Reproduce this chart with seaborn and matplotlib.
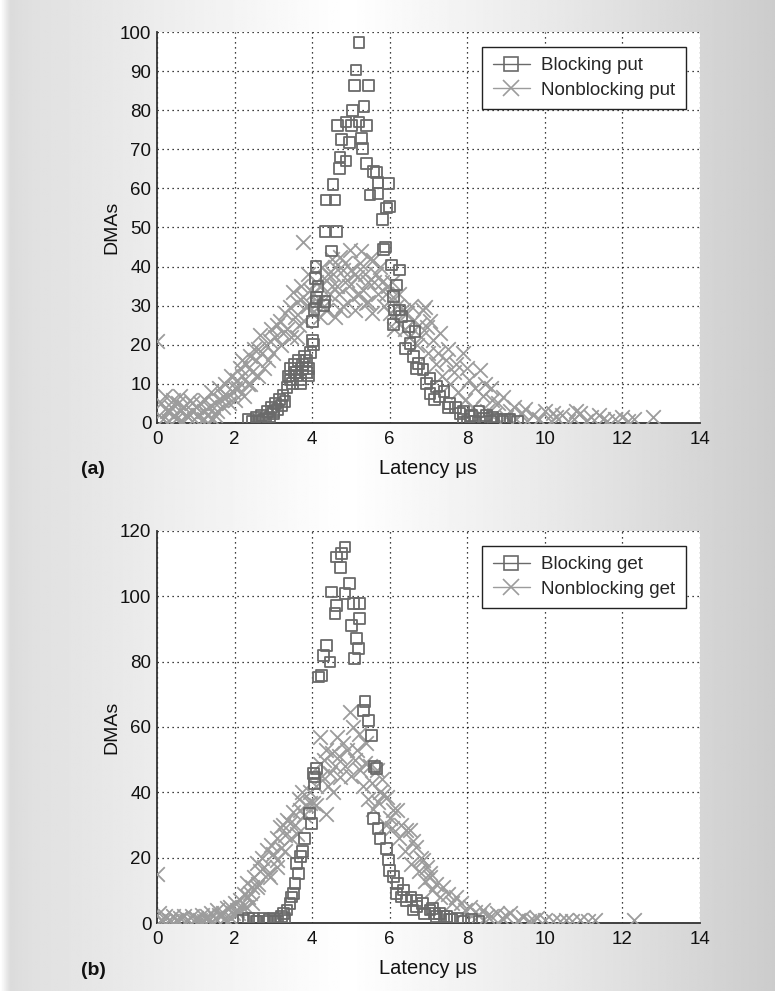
import numpy as np
import pandas as pd
import matplotlib
matplotlib.use("Agg")
import matplotlib.pyplot as plt
from matplotlib.lines import Line2D
import seaborn as sns

sns.set_theme(style="white")
plt.rcParams['font.family'] = ['Liberation Sans', 'DejaVu Sans']

# ---------------- data: panel (a) ----------------
bput_x = [2.35,2.45,2.55,2.6,2.7,2.75,2.85,2.9,2.95,3.0,3.05,3.1,3.15,3.2,3.25,3.3,3.35,3.4,3.45,3.5,
          3.55,3.6,3.65,3.7,3.75,3.8,3.85,3.9,3.95,4.0,4.03,4.0,4.05,4.1,4.12,4.15,4.08,4.1,4.3,4.33,
          4.36,4.5,4.33,4.63,4.54,4.59,4.70,4.72,4.87,4.76,4.96,4.65,4.87,5.02,5.21,5.40,5.28,5.30,5.05,5.34,
          5.09,5.46,5.13,5.21,5.40,5.58,5.66,5.70,5.96,5.49,5.70,5.92,5.99,5.82,5.83,5.9,
          6.05,6.26,6.18,6.09,6.26,6.13,6.31,6.09,6.48,6.65,6.52,6.61,6.74,6.86,7.04,7.21,7.04,7.29,7.55,7.4,
          7.7,7.81,7.9,8.07,8.2,8.41,8.5,8.6,8.76,8.9,9.10,9.3,8.3,8.0,
          3.45,3.6,3.75,3.9,3.55,3.7,3.85,2.65,2.8,3.0,6.4,6.7,6.95,7.15,7.5,7.9,8.1,8.65,8.95]
bput_y = [1,0.5,1.5,0.5,2,1,3,1.5,4,2.5,5,3.5,6,4.5,7,5.5,9,12,14,10,
          15,13,16,11,14,17,13,12,18,21,20,26,29,31,32,35,37,40,30,31,
          57,44,49,49,61,57,65,68,67,72.6,71.7,76,77,76,77,76,72.8,70.3,80,81,
          86.4,86.4,90.3,97.4,66.4,64.3,64,61.5,61.3,58.3,58.7,55,55.3,52.1,44.4,45,
          40.4,39.1,35.3,32.3,28.9,28.9,27.2,25.1,24.6,23.4,20.4,17,15.3,13.6,11.4,9.3,7.6,6.7,5,8,
          4,2.5,1,1.6,0.5,1.2,2,0.5,0.8,0.5,0.8,0.5,3,0.5,
          11,12,15,14,13,10,16,0.5,1,3,19,14,10,6,4,3,2,1.5,1]

nput_x = [0.0,0.05,0.1,0.15,0.2,0.25,0.3,0.35,0.4,0.45,0.5,0.55,0.6,0.65,0.7,0.75,0.8,0.85,0.9,0.95,
          1.0,1.05,1.1,1.15,1.2,1.25,1.3,1.35,1.4,1.45,1.5,1.55,1.6,1.65,1.7,1.75,1.8,1.85,1.9,1.95,
          2.0,2.05,2.1,2.15,2.2,2.25,2.3,2.35,2.4,2.45,2.5,2.55,2.6,2.65,2.7,2.75,2.8,2.85,2.91,2.95,
          3.0,3.05,3.1,3.17,3.2,3.25,3.3,3.35,3.43,3.45,3.51,3.55,3.6,3.65,3.7,3.77,3.77,3.85,3.9,3.95,
          4.03,4.1,4.2,4.25,4.3,4.37,4.45,4.5,4.55,4.6,4.65,4.72,4.72,4.8,4.89,4.97,5.05,5.1,5.15,5.23,
          5.3,5.40,5.45,5.5,5.58,5.65,5.7,5.8,5.85,5.95,6.0,6.09,6.15,6.2,6.35,6.4,6.5,6.6,6.7,6.86,
          6.91,6.95,7.0,7.12,7.2,7.29,7.35,7.45,7.55,7.65,7.75,7.89,7.95,8.05,8.15,8.32,8.4,8.5,8.6,8.7,
          8.8,8.93,9.0,9.1,9.25,9.4,9.55,9.7,9.85,10.0,10.15,10.3,10.45,10.6,10.75,10.9,11.05,11.2,11.4,11.6,
          11.8,12.0,12.15,12.3,12.8,
          3.6,3.8,3.9,4.0,4.15,4.2,4.35,4.4,4.5,4.6,4.7,4.8,4.85,4.95,5.0,5.1,5.2,5.25,5.35,5.45,
          5.55,5.6,5.75,5.9,6.05,6.1,6.25,6.45,6.55,6.75,6.8,7.05,7.25,7.5,7.7,8.0,8.2,8.45,8.65,9.2,
          9.5,10.2,10.8,11.5,2.2,2.4,2.6,2.0,1.7,1.2,0.6,0.3,0.9,1.5]
nput_y = [21,2,5,1,7,3,0.5,4,6,2,1,5,3,0.5,4,2,1.5,6,3,1,
          4,2,5,0.5,3,6,2,4,8,1,5,3,9,6,4,10,7,5,12,8,
          6,11,9,14,12,7,15,10,17,13,19,16,12,22.5,18,14,20,16,21,24,
          18,22,25,26,20,23,28,24,29.7,22,33.6,27,31,25,35,32.3,46.4,30,38,34,
          33.2,36,34.9,40,30,36.6,33,42,38,27,35,42.5,28.9,39,36.6,44.2,32,38,37.4,40.8,
          34,30.6,36,42,41.7,38,33,36,30,35,28,32.3,26,30,28.9,24,22,26,20,28.9,
          29.7,24.6,18,21.2,15,22.9,12,16,10,13,8,17.8,6,11,4,13.6,7,3,9,2,
          5,6.7,1.5,3,1,2.5,0.5,2,1,3,0.5,1.5,2,0.5,1,2.5,0.5,1.5,2,0.5,
          1,1.5,0.5,1,1.6,
          22,26,30,28,31,27,29,38,35,40,33,30,41,35,39,29,33,44,38,31,
          28,36,40,33,36,24,33,28,30,25,22,26,18,19,15,14,9,10,6,4,
          3.5,2.5,3,1,16,10,19,9,7,1,7,3,5,2]

# ---------------- data: panel (b) ----------------
bget_x = [2.23,2.35,2.48,2.6,2.74,2.85,3.0,3.1,3.2,3.26,3.35,3.43,3.47,3.51,3.56,3.6,3.64,3.69,3.75,3.81,
          3.94,3.99,4.07,4.07,4.12,4.03,4.16,4.24,4.29,4.37,4.46,
          4.50,4.59,4.63,4.63,4.73,4.76,4.85,4.85,4.96,5.06,5.23,5.23,5.02,5.15,5.19,5.10,
          5.36,5.32,5.45,5.53,5.66,5.6,5.58,5.70,5.75,5.92,5.96,6.0,6.09,6.2,6.18,6.35,6.43,6.55,6.69,6.69,
          6.85,7.04,7.1,7.15,7.29,7.4,7.47,7.6,7.75,7.9,8.1,8.3,
          2.55,2.9,3.05,3.3,6.3,6.6,6.9,7.2,7.55]
bget_y = [0.9,1.5,1.4,0.5,1.4,0.5,1.4,0.5,2,2.9,4,6.0,8,9.1,12.1,18.3,15.2,20.3,22,25.9,
          33.5,30.5,42.7,44.7,47.3,45.8,75.3,75.8,82,85,79.9,
          101.3,94.7,97.2,112,108.8,113.1,115.1,100.8,103.9,97.8,97.8,93.2,91.1,87.1,84.0,80.9,
          67.7,65.1,62.1,57.5,47.3,48,32.0,29.0,25.9,22.8,19.3,16,14.2,12,9.1,10.1,7.0,8,7.0,5.0,
          6,4.0,4.5,3,3.0,2,1.9,1,1.5,0.5,1,0.5,
          0.5,1,0.5,1.5,8,4,3,2,1.2]

nget_x = [0.0,0.05,0.1,0.15,0.2,0.3,0.35,0.4,0.5,0.55,0.6,0.7,0.75,0.8,0.9,0.95,1.0,1.1,1.15,1.2,
          1.3,1.35,1.4,1.5,1.54,1.6,1.7,1.75,1.8,1.88,1.95,2.0,2.05,2.14,2.2,2.25,2.31,2.35,2.40,2.45,
          2.5,2.57,2.57,2.65,2.7,2.75,2.83,2.91,2.95,3.0,3.09,3.1,3.17,3.2,3.25,3.3,3.34,3.43,3.5,3.6,
          3.65,3.69,3.75,3.85,3.94,4.03,4.1,4.2,4.2,4.3,4.37,4.37,4.45,4.55,4.63,4.72,4.8,4.85,4.97,5.05,
          5.1,5.15,5.23,5.3,5.40,5.45,5.5,5.58,5.66,5.75,5.83,5.92,6.0,6.09,6.18,6.3,6.43,6.52,6.6,6.69,
          6.8,6.86,6.95,7.04,7.04,7.2,7.38,7.5,7.72,7.85,8.07,8.2,8.41,8.6,8.76,8.9,9.10,9.3,9.44,9.6,
          9.8,10.0,10.4,10.55,10.7,10.9,11.1,11.3,12.3,
          4.25,4.4,4.5,4.6,4.7,4.9,5.0,5.2,5.35,5.55,5.7,5.8,5.9,6.05,6.25,6.4,6.55,6.75,6.9,7.1,
          7.3,7.6,7.95,8.3,8.5,3.3,3.45,3.55,3.8,3.95,4.1,3.1,2.85,2.6,2.45,2.3,2.1,9.0,9.7,10.2,
          1.9,1.65]
nget_y = [15,3,1,0.5,2,1,0.5,2,1,0.5,1.5,2,0.5,1,2,0.5,1.5,1,2.5,0.5,
          2,1,3,1.5,4,2.5,3,1.5,4.5,5,3,6,4,7,5,9,12.1,8,9.1,11,
          14,11.1,18.3,16,20,17,22.3,14.2,24,21,19.3,26,29.4,23,30,27,31.5,30.5,34,27.4,
          38,34.6,40,36,36.6,36.6,42,57.0,48.8,50,52.9,33.5,46,40,57.0,44.7,55.0,48,64.6,60,
          50,52.9,46.8,42,55.0,38,48,35,46.8,40,39.1,38.6,32,34.6,34.6,30,28.4,28.4,25,23.3,
          20,19.3,17,15.2,14.2,12,11.1,9,8.0,6,5.0,3.5,4.0,2,3.0,1.5,3.0,1,1.9,0.5,
          1.5,1,0.5,1,0.5,1,0.5,1,0.9,
          45,42,52,48,51,53,45,58,49,43,37,44,30,29,26,22,18,16,13,10,
          8,6,4,2.5,2,22,26,30,33,40,36,17,15,12,6,5,3,2,1,0.5,
          1.5,2]

xticks = [0, 2, 4, 6, 8, 10, 12, 14]
yticks_a = [0, 10, 20, 30, 40, 50, 60, 70, 80, 90, 100]
yticks_b = [0, 20, 40, 60, 80, 100, 120]

SQ_COL = '#6a6a6a'
X_COL = '#9c9c9c'
TXT = '#111111'

fig = plt.figure(figsize=(7.75, 9.91), dpi=100)

# background gradient
bg = fig.add_axes([0, 0, 1, 1], zorder=-10)
xs = np.linspace(0, 1, 400)
prof = np.interp(xs, [0.0, 0.012, 0.04, 0.45, 0.75, 1.0], [1.0, 0.86, 0.88, 1.0, 0.90, 0.80])
img = np.tile(prof, (50, 1))
bg.imshow(img, cmap='gray', vmin=0, vmax=1, aspect='auto', extent=[0, 1, 0, 1])
bg.set_axis_off()


def panel(rect, bx, by, nx, ny, yticks, ymax, lab_b, lab_n, tag):
    ax = fig.add_axes(rect)
    ax.set_facecolor('white')
    sns.scatterplot(x=nx, y=ny, ax=ax, marker='x', s=110, color=X_COL,
                    linewidth=1.3, zorder=3, legend=False)
    sns.scatterplot(x=bx, y=by, ax=ax, marker='s', s=60, facecolor='none',
                    edgecolor=SQ_COL, linewidth=1.3, zorder=4, legend=False)
    ax.set_xlim(0, 14)
    ax.set_ylim(0, ymax)
    ax.set_xticks(xticks)
    ax.set_yticks(yticks)
    ax.grid(True, linestyle=(0, (1, 3)), color='black', linewidth=0.9)
    ax.set_axisbelow(True)
    for s in ['top', 'right']:
        ax.spines[s].set_visible(False)
    for s in ['left', 'bottom']:
        ax.spines[s].set_color('#333333')
        ax.spines[s].set_linewidth(1.3)
    ax.tick_params(axis='x', length=0, labelsize=13.5, pad=6, colors=TXT)
    ax.tick_params(axis='y', length=0, labelsize=13.5, pad=4, colors=TXT)
    ax.set_xlabel('Latency \u03bcs', fontsize=14.5, color=TXT, labelpad=8)
    ax.set_ylabel('DMAs', fontsize=14, color=TXT, labelpad=0)
    handles = [
        Line2D([], [], color=SQ_COL, marker='s', markersize=10, markerfacecolor='none',
               markeredgecolor=SQ_COL, linewidth=1.0, markeredgewidth=1.2),
        Line2D([], [], color=X_COL, marker='x', markersize=12,
               markeredgecolor=X_COL, linewidth=1.0, markeredgewidth=1.2),
    ]
    leg = ax.legend(handles, [lab_b, lab_n], loc='upper right',
                    bbox_to_anchor=(0.974, 0.962), fontsize=13.5, frameon=True,
                    fancybox=False, framealpha=1, edgecolor='#222222',
                    handlelength=2.0, handletextpad=0.6, borderpad=0.55,
                    labelspacing=0.4, borderaxespad=0)
    leg.get_frame().set_linewidth(1.0)
    ax.text(-0.118, -0.12, tag, transform=ax.transAxes, fontsize=14,
            fontweight='bold', ha='center', va='center', color=TXT)
    return ax


panel([0.2026, 0.5732, 0.7006, 0.3945], bput_x, bput_y, nput_x, nput_y,
      yticks_a, 100, 'Blocking put', 'Nonblocking put', '(a)')
panel([0.2026, 0.0686, 0.7006, 0.3956], bget_x, bget_y, nget_x, nget_y,
      yticks_b, 120, 'Blocking get', 'Nonblocking get', '(b)')

fig.savefig('out.png', dpi=100)
